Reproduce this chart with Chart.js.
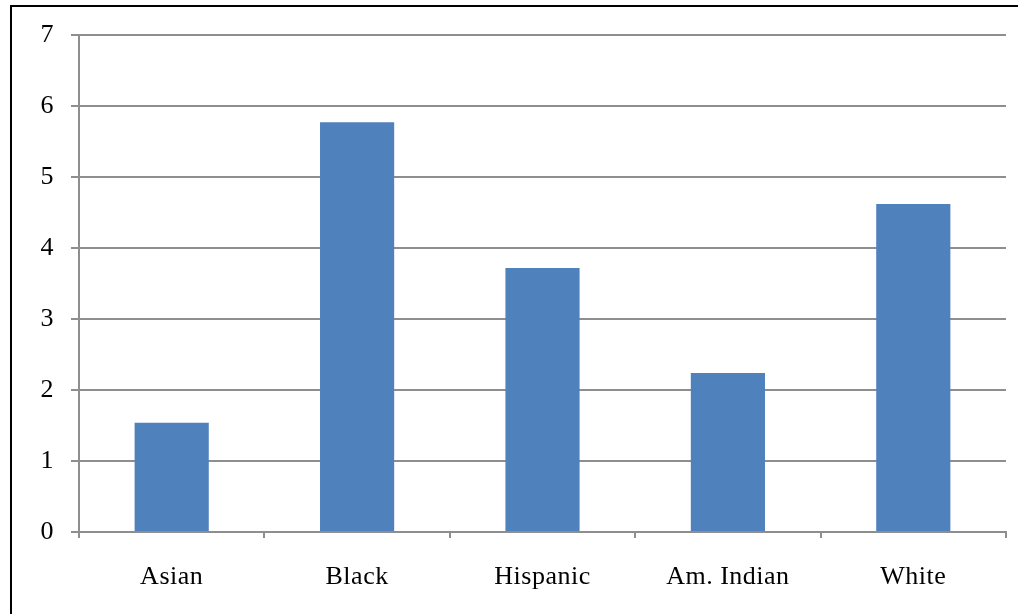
<!DOCTYPE html>
<html>
<head>
<meta charset="utf-8">
<script src="https://cdn.jsdelivr.net/npm/chart.js@4"></script>
<style>
  html, body { margin: 0; padding: 0; background: #fff; overflow: hidden; }
  #frame {
    position: absolute; left: 10px; top: 5px; width: 1020px; height: 620px;
    border-top: 2px solid #000; border-left: 2px solid #000;
  }
  #wrap { position: absolute; left: 0; top: 0; width: 1018px; height: 614px; }
</style>
</head>
<body>
<div id="frame"></div>
<div id="wrap"><canvas id="chart" width="1018" height="614"></canvas></div>
<script>
var categories = ["Asian", "Black", "Hispanic", "Am. Indian", "White"];
var values = [1.54, 5.77, 3.72, 2.24, 4.62];
var yTicks = [0, 1, 2, 3, 4, 5, 6, 7];

var gridColor = "#8e8e8e";
var font = { family: "'Liberation Serif', 'Times New Roman', serif", size: 26 };

// word-style loose letter spacing on the labels
var spacing = {
    id: "spacing",
    beforeDraw: function (chart) { chart.ctx.letterSpacing = "0.5px"; }
};

var ctx = document.getElementById("chart");

var chart = new Chart(ctx, {
    type: "bar",
    data: {
        labels: categories,
        datasets: [{
            data: values,
            backgroundColor: "#4f81bd",
            categoryPercentage: 1,
            barPercentage: 0.4
        }]
    },
    options: {
        responsive: false,
        animation: false,
        layout: { padding: { left: 0, right: 12, top: 35, bottom: 0 } },
        plugins: { legend: { display: false }, tooltip: { enabled: false } },
        scales: {
            x: {
                grid: {
                    offset: true,
                    drawOnChartArea: false,
                    drawTicks: true,
                    tickLength: 6,
                    color: gridColor,
                    lineWidth: 2
                },
                border: { color: gridColor, width: 2 },
                ticks: { color: "#000", font: font, padding: 24, maxRotation: 0 },
                afterFit: function (s) { s.height = 82; }
            },
            y: {
                min: 0,
                max: 7,
                afterBuildTicks: function (s) {
                    s.ticks = yTicks.map(function (v) { return { value: v }; });
                },
                grid: { color: gridColor, lineWidth: 2, tickLength: 8 },
                border: { color: gridColor, width: 2 },
                ticks: { color: "#000", font: font, padding: 17 },
                afterFit: function (s) { s.width = 79; }
            }
        }
    },
    plugins: [spacing]
});
</script>
</body>
</html>
